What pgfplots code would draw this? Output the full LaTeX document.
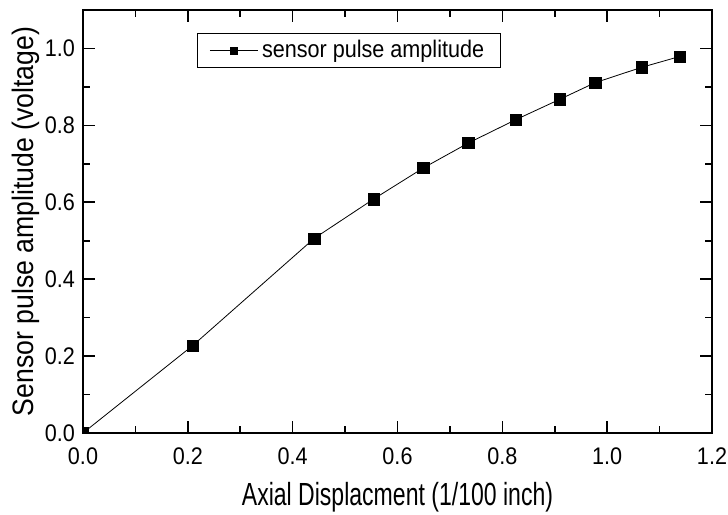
\documentclass[border=0pt]{standalone}
\usepackage{fontspec}
\setmainfont{Liberation Sans}[FakeStretch=0.9]
\newfontfamily\xlabfont{Liberation Sans}[FakeStretch=0.72]
\usepackage{pgfplots}
\pgfplotsset{compat=1.18}

\begin{document}
\begin{tikzpicture}
\begin{axis}[
    scale only axis,
    width=314.5pt,
    height=211.5pt,
    xmin=0, xmax=1.2,
    ymin=0, ymax=1.1,
    xtick={0,0.2,0.4,0.6,0.8,1.0,1.2},
    ytick={0,0.2,0.4,0.6,0.8,1.0},
    minor x tick num=1,
    minor y tick num=1,
    tick align=inside,
    major tick length=6pt,
    minor tick length=3.5pt,
    axis line style={line width=1pt},
    every tick/.style={black, line width=0.8pt},
    /pgf/number format/assume math mode=true,
    /pgf/number format/fixed,
    /pgf/number format/fixed zerofill,
    /pgf/number format/precision=1,
    tick label style={font=\fontsize{12}{14}\selectfont},
    xticklabel style={yshift=-4pt},
    yticklabel style={xshift=-0.5pt},
    ylabel={Sensor pulse amplitude (voltage)},
    ylabel style={font=\fontsize{14.8}{17}\selectfont, at={(axis description cs:-0.091,0.5)}, anchor=center},
    clip marker paths=true,
    legend style={at={(0.181,0.946)}, anchor=north west, draw=black, line width=0.6pt,
        font=\fontsize{12}{14}\selectfont, inner xsep=6pt, inner ysep=1.5pt},
    legend image code/.code={\draw[mark repeat=2, mark phase=2, mark size=1.9pt] plot coordinates {(0cm,0cm) (0.42cm,0cm) (0.84cm,0cm)};},
]
\addplot[black, line width=0.4pt, mark=square*, mark size=2.8pt, mark options={solid, line width=0.2pt}] coordinates {
    (0.000, 0.000)
    (0.209, 0.227)
    (0.441, 0.506)
    (0.554, 0.608)
    (0.649, 0.689)
    (0.735, 0.754)
    (0.826, 0.815)
    (0.910, 0.868)
    (0.977, 0.911)
    (1.066, 0.951)
    (1.138, 0.979)
};
\addlegendentry{sensor pulse amplitude}
\end{axis}
% x-axis title, set below the tick labels
\node[font=\xlabfont\fontsize{16}{18}\selectfont, anchor=center] at ([yshift=-32pt]current axis.south) {Axial Displacment (1/100 inch)};
\pgfresetboundingbox
\path ([xshift=-41.5pt,yshift=-40.5pt]current axis.south west) rectangle ([xshift=8pt,yshift=5pt]current axis.north east);
\end{tikzpicture}
\end{document}
